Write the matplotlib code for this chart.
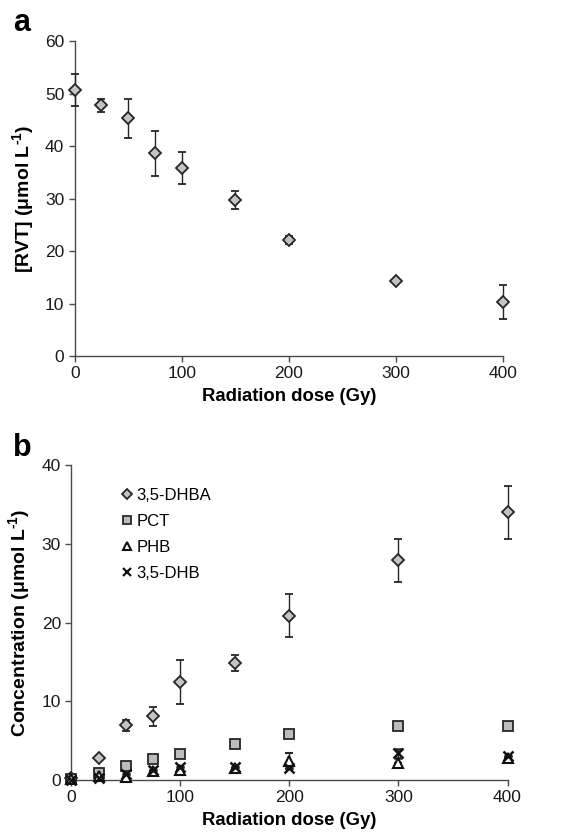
import matplotlib

matplotlib.use("Agg")

import matplotlib.pyplot as plt
from matplotlib.lines import Line2D

plt.rcParams["font.family"] = ["Liberation Sans", "DejaVu Sans"]
plt.rcParams["mathtext.fontset"] = "custom"
plt.rcParams["mathtext.rm"] = "Liberation Sans"
plt.rcParams["mathtext.bf"] = "Liberation Sans:bold"

# =========================
# Data
# =========================
dose = [0, 25, 50, 75, 100, 150, 200, 300, 400]

rvt = [50.7, 47.8, 45.3, 38.6, 35.8, 29.7, 22.1, 14.3, 10.3]
rvt_err = [3.0, 1.2, 3.7, 4.3, 3.1, 1.7, 0.8, 0.3, 3.3]

dhba = [0.2, 2.75, 6.95, 8.1, 12.5, 14.9, 20.9, 27.9, 34.0]
dhba_err = [0.0, 0.0, 0.7, 1.2, 2.8, 1.0, 2.7, 2.7, 3.4]
pct = [0.1, 0.9, 1.8, 2.7, 3.35, 4.6, 5.8, 6.8, 6.85]
phb = [0.1, 0.5, 0.4, 1.1, 1.3, 1.55, 2.4, 2.1, 2.75]
phb_err = [0.0, 0.0, 0.0, 0.0, 0.0, 0.0, 1.0, 0.0, 0.0]
dhb = [0.0, 0.2, 0.75, 1.3, 1.7, 1.7, 1.55, 3.4, 3.0]
dhb_err = [0.0, 0.0, 0.0, 0.0, 0.0, 0.0, 0.0, 0.6, 0.0]

x_ticks = [0, 100, 200, 300, 400]
legend_labels = ["3,5-DHBA", "PCT", "PHB", "3,5-DHB"]

edge = "#262626"
axis_col = "#4a4a4a"
sup = "$^{\\mathbf{\u2010}\\mathbf{1}}$"

fig = plt.figure(figsize=(5.8, 8.35), dpi=100)
ax_a = fig.add_axes([0.1288, 0.5737, 0.739, 0.3769])
ax_b = fig.add_axes([0.1230, 0.0659, 0.752, 0.3769])


def style_axes(ax):
    for side in ["top", "right"]:
        ax.spines[side].set_visible(False)
    for side in ["left", "bottom"]:
        ax.spines[side].set_color(axis_col)
        ax.spines[side].set_linewidth(1.0)
    ax.tick_params(direction="out", length=4, width=1.0, color=axis_col,
                   labelsize=12.5, labelcolor="#1a1a1a")
    ax.set_xlim(0, 400)
    ax.set_xticks(x_ticks)
    ax.set_xlabel("Radiation dose (Gy)", fontsize=13.3, fontweight="bold", labelpad=5)


# =========================
# Panel a
# =========================
ax_a.errorbar(dose, rvt, yerr=rvt_err, fmt="D", markersize=6,
              markerfacecolor="#c4c4c4", markeredgecolor=edge, markeredgewidth=1.3,
              ecolor=edge, elinewidth=1.0, capsize=3, capthick=1.0, clip_on=False, zorder=3)
style_axes(ax_a)
ax_a.set_ylim(0, 60)
ax_a.set_yticks(range(0, 61, 10))
ax_a.set_ylabel("[RVT] (μmol L" + sup + ")", fontsize=14, fontweight="bold", labelpad=6)
fig.text(0.022, 0.973, "a", fontsize=22, fontweight="bold", va="center", ha="left")

# =========================
# Panel b
# =========================
ax_b.errorbar(dose, dhba, yerr=dhba_err, fmt="D", markersize=6,
              markerfacecolor="#c4c4c4", markeredgecolor=edge, markeredgewidth=1.3,
              ecolor=edge, elinewidth=1.0, capsize=3, capthick=1.0, clip_on=False, zorder=3)
ax_b.errorbar(dose, pct, fmt="s", markersize=7,
              markerfacecolor="#bcbcbc", markeredgecolor=edge, markeredgewidth=1.3,
              clip_on=False, zorder=3)
ax_b.errorbar(dose, phb, yerr=phb_err, fmt="^", markersize=7,
              markerfacecolor="white", markeredgecolor="#111111", markeredgewidth=1.5,
              ecolor=edge, elinewidth=1.0, capsize=3, capthick=1.0, clip_on=False, zorder=3)
ax_b.errorbar(dose, dhb, yerr=dhb_err, fmt="x", markersize=7,
              markeredgecolor="#111111", markeredgewidth=1.8,
              ecolor=edge, elinewidth=1.0, capsize=3, capthick=1.0, clip_on=False, zorder=3)
style_axes(ax_b)
ax_b.set_ylim(0, 40)
ax_b.set_yticks(range(0, 41, 10))
ax_b.set_ylabel("Concentration (μmol L" + sup + ")", fontsize=14, fontweight="bold", labelpad=6)
fig.text(0.022, 0.463, "b", fontsize=22, fontweight="bold", va="center", ha="left")

handles = [
    Line2D([], [], ls="none", marker="D", markersize=5, markerfacecolor="#c4c4c4",
           markeredgecolor=edge, markeredgewidth=1.3),
    Line2D([], [], ls="none", marker="s", markersize=6, markerfacecolor="#bcbcbc",
           markeredgecolor=edge, markeredgewidth=1.3),
    Line2D([], [], ls="none", marker="^", markersize=6, markerfacecolor="white",
           markeredgecolor="#111111", markeredgewidth=1.5),
    Line2D([], [], ls="none", marker="x", markersize=6, markeredgecolor="#111111",
           markeredgewidth=1.6),
]
ax_b.legend(handles, legend_labels, loc="upper left", bbox_to_anchor=(0.102, 0.948),
            frameon=False, fontsize=12, handlelength=0.6, handletextpad=0.25,
            labelspacing=0.65, borderaxespad=0)

fig.savefig("out.png", dpi=100)
